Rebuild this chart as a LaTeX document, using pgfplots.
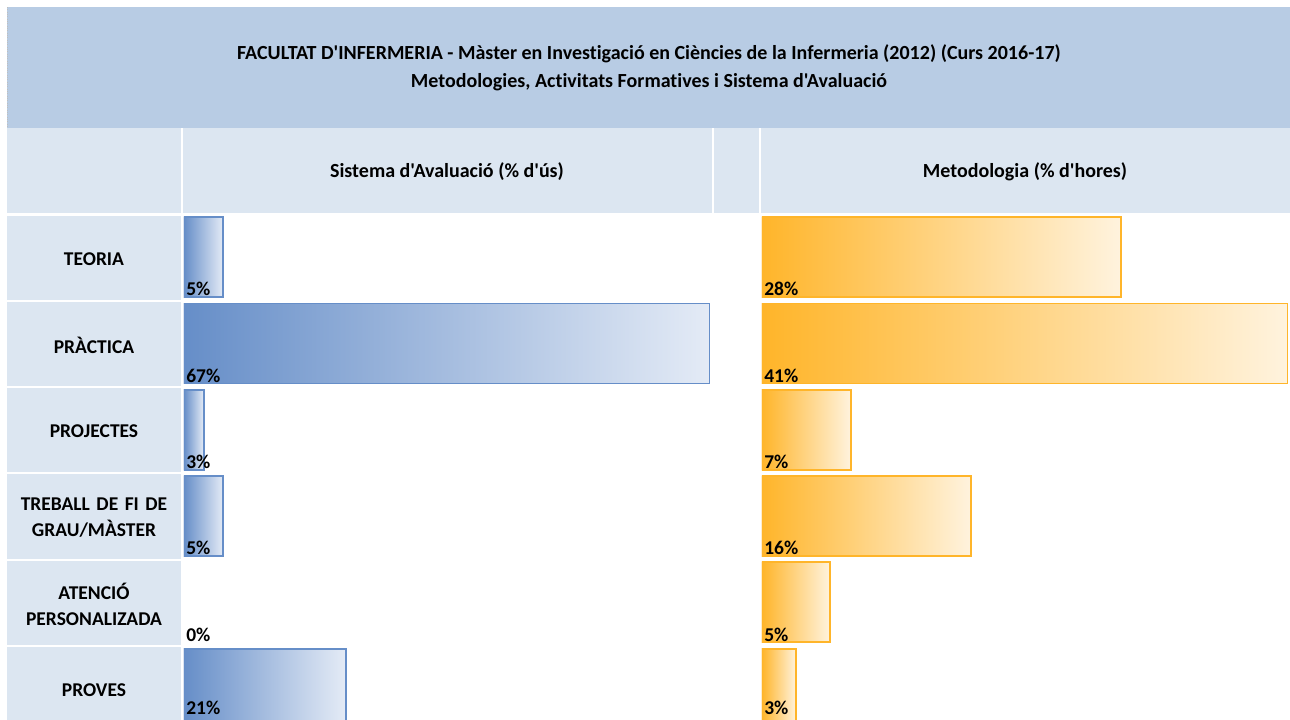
\documentclass[border=0pt]{standalone}
\usepackage{fontspec}
\setmainfont{Carlito}[Ligatures={TeXOff,NoCommon}]
\usepackage{pgfplots}
\pgfplotsset{compat=1.18}
\usepackage{pgfplotstable}
\definecolor{band}{RGB}{184,204,228}
\definecolor{cell}{RGB}{220,230,241}
\definecolor{bblue}{RGB}{102,142,200}
\definecolor{lblue}{RGB}{228,235,246}
\definecolor{borange}{RGB}{255,181,42}
\definecolor{lorange}{RGB}{255,243,222}

\pgfplotstableread{
row eval met ly evlab metlab
0 5.0 28.0 0.45 5 28
1 67.0 41.0 1.45 67 41
2 2.5 6.95 2.45 3 7
3 5.0 16.3 3.45 5 16
4 0 5.3 4.45 0 5
5 20.6 2.65 5.305 21 3
}\datatable

\pgfplotsset{
  bluebar/.style={xbar, bar width=48pt, draw=bblue, line width=1.1pt, left color=bblue, right color=lblue},
  orbar/.style={xbar, bar width=48pt, draw=borange, line width=1.1pt, left color=borange, right color=lorange},
}

\begin{document}
\begin{tikzpicture}[font=\fontsize{12}{14}\selectfont\bfseries]
\begin{scope}[x=0.6pt,y=-0.6pt]
\useasboundingbox (0,0) rectangle (1290,720);
\fill[white] (0,0) rectangle (1290,720);
\fill[band] (7,7) rectangle (1290,128);
\draw[black!25, densely dotted, line width=0.4pt] (7,7) -- (7,128);
\fill[cell] (7,128) rectangle (181,213);
\fill[cell] (183,128) rectangle (712,213);
\fill[cell] (714,128) rectangle (759,213);
\fill[cell] (761,128) rectangle (1290,213);
\foreach \i in {0,...,5} \fill[cell] (7,{214+\i*86.3+1.5}) rectangle (181,{214+(\i+1)*86.3-0.5});
\node at (649,54) {FACULTAT D'INFERMERIA - Màster en Investigació en Ciències de la Infermeria (2012) (Curs 2016-17)};
\node at (649,82) {Metodologies, Activitats Formatives i Sistema d'Avaluació};
\node at (447,172) {Sistema d'Avaluació (\% d'ús)};
\node at (1025,172) {Metodologia (\% d'hores)};
\end{scope}

\begin{axis}[
  at={(110.4pt,-128.4pt)}, anchor=north west,
  scale only axis, width=315.6pt, height=303.6pt,
  xmin=0, xmax=67, ymin=-0.5, ymax=5.363, y dir=reverse,
  hide x axis, axis y line*=left, y axis line style={draw=none},
  ytick={0,...,5},
  yticklabels={TEORIA, PRÀCTICA, PROJECTES, {TREBALL DE FI DE\\GRAU/MÀSTER}, {ATENCIÓ\\PERSONALIZADA}, PROVES},
  major tick length=0pt,
  yticklabel style={anchor=center, xshift=-54pt, yshift=-1pt, text width=102pt, align=center, font=\fontsize{11.7}{15.6}\selectfont\bfseries},
]
\addplot[bluebar] coordinates {(5.0,0)};
\addplot[bluebar] coordinates {(67.0,1)};
\addplot[bluebar] coordinates {(2.5,2)};
\addplot[bluebar] coordinates {(5.0,3)};
\addplot[bluebar] coordinates {(20.6,5)};
\addplot[draw=none, nodes near coords={\pgfplotspointmeta\%}, point meta=explicit symbolic,
  nodes near coords style={anchor=base west, inner sep=0pt, xshift=1.2pt, text=black, font=\fontsize{11.7}{14}\selectfont\bfseries}]
  table[x expr=0, y=ly, meta=evlab] {\datatable};
\end{axis}

\begin{axis}[
  at={(457.2pt,-128.4pt)}, anchor=north west,
  scale only axis, width=315.6pt, height=303.6pt,
  xmin=0, xmax=41, ymin=-0.5, ymax=5.363, y dir=reverse,
  hide x axis, hide y axis,
]
\addplot[orbar] coordinates {(28.0,0)};
\addplot[orbar] coordinates {(41.0,1)};
\addplot[orbar] coordinates {(6.95,2)};
\addplot[orbar] coordinates {(16.3,3)};
\addplot[orbar] coordinates {(5.3,4)};
\addplot[orbar] coordinates {(2.65,5)};
\addplot[draw=none, nodes near coords={\pgfplotspointmeta\%}, point meta=explicit symbolic,
  nodes near coords style={anchor=base west, inner sep=0pt, xshift=1.2pt, text=black, font=\fontsize{11.7}{14}\selectfont\bfseries}]
  table[x expr=0, y=ly, meta=metlab] {\datatable};
\end{axis}
\end{tikzpicture}
\end{document}
